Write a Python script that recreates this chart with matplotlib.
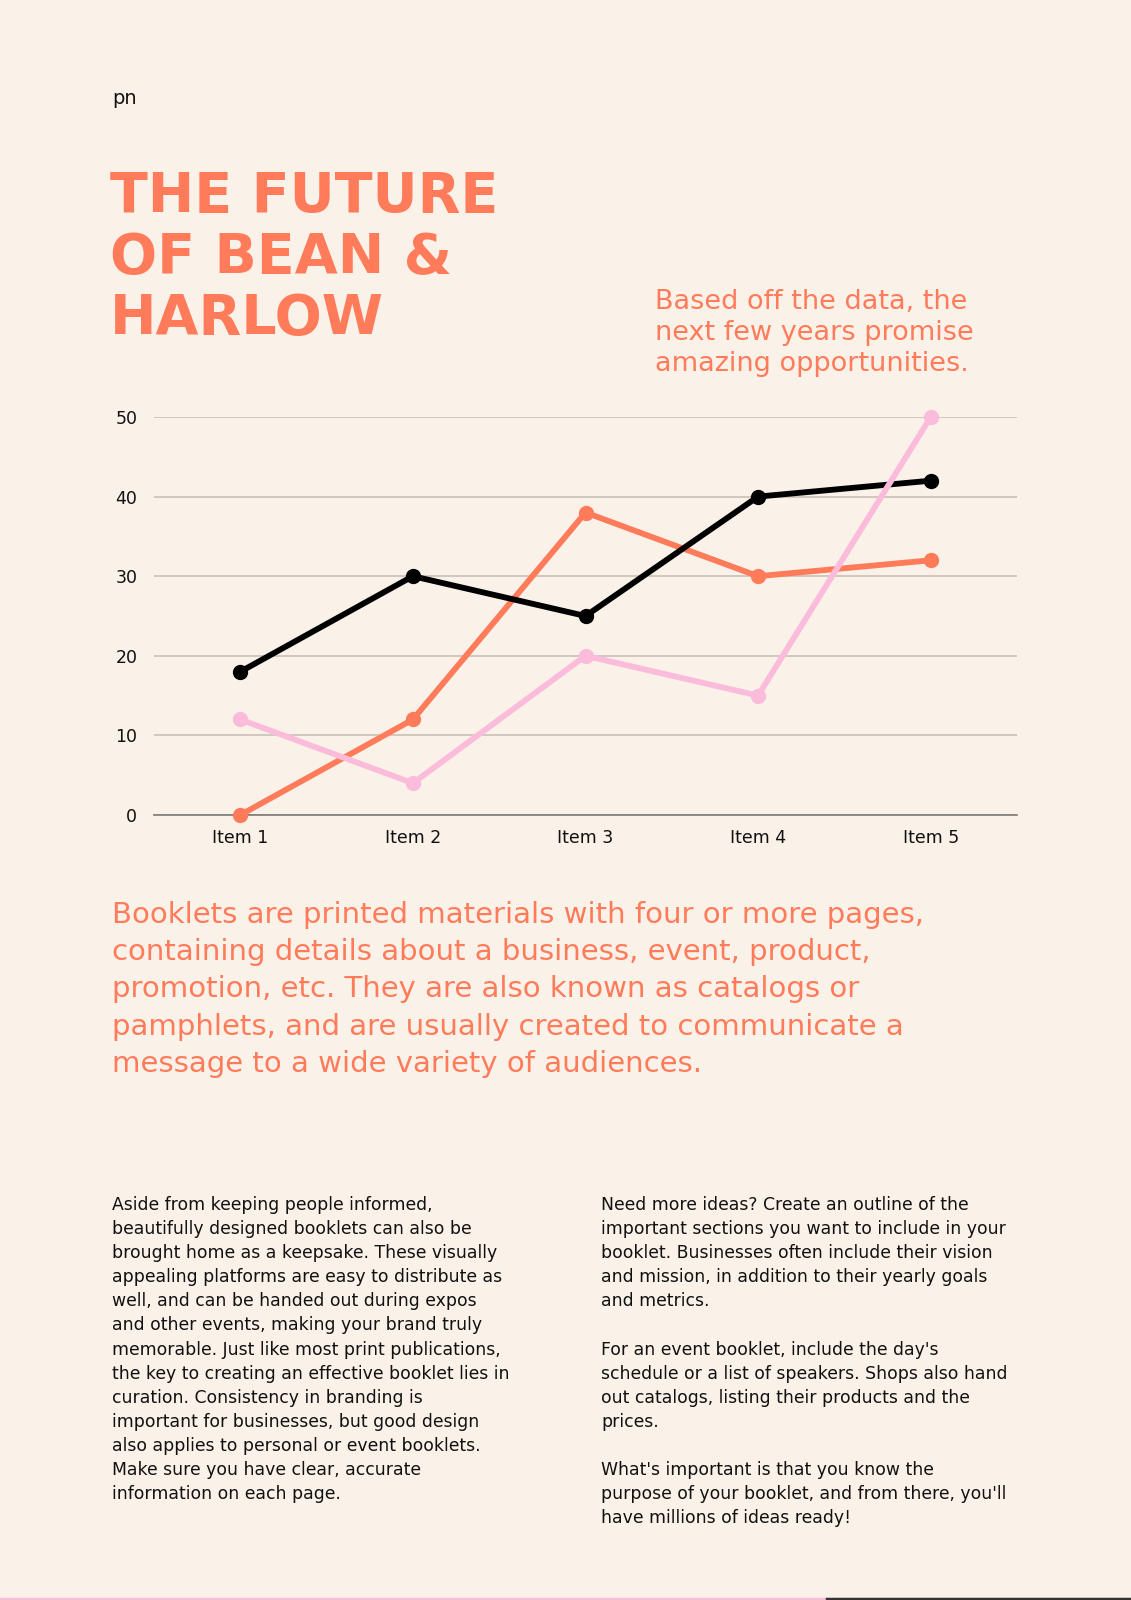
import matplotlib.pyplot as plt
import numpy as np

BG = "#FAF1E8"
ORANGE = "#FF7B5A"
PINK = "#FBBCDC"
INK = "#111111"

items = ["Item 1", "Item 2", "Item 3", "Item 4", "Item 5"]
serie_negra = [18, 30, 25, 40, 42]
serie_naranja = [0, 12, 38, 30, 32]
serie_rosa = [12, 4, 20, 15, 50]
y_ticks = [0, 10, 20, 30, 40, 50]

titulo = ["THE FUTURE", "OF BEAN &", "HARLOW"]
subtitulo = ["Based off the data, the", "next few years promise", "amazing opportunities."]
parrafo = [
    "Booklets are printed materials with four or more pages,",
    "containing details about a business, event, product,",
    "promotion, etc. They are also known as catalogs or",
    "pamphlets, and are usually created to communicate a",
    "message to a wide variety of audiences.",
]
col_izq = [
    "Aside from keeping people informed,",
    "beautifully designed booklets can also be",
    "brought home as a keepsake. These visually",
    "appealing platforms are easy to distribute as",
    "well, and can be handed out during expos",
    "and other events, making your brand truly",
    "memorable. Just like most print publications,",
    "the key to creating an effective booklet lies in",
    "curation. Consistency in branding is",
    "important for businesses, but good design",
    "also applies to personal or event booklets.",
    "Make sure you have clear, accurate",
    "information on each page.",
]
col_der = [
    "Need more ideas? Create an outline of the",
    "important sections you want to include in your",
    "booklet. Businesses often include their vision",
    "and mission, in addition to their yearly goals",
    "and metrics.",
    "",
    "For an event booklet, include the day's",
    "schedule or a list of speakers. Shops also hand",
    "out catalogs, listing their products and the",
    "prices.",
    "",
    "What's important is that you know the",
    "purpose of your booklet, and from there, you'll",
    "have millions of ideas ready!",
]

W, H = 1131, 1600
fig = plt.figure(figsize=(W / 100, H / 100), dpi=100, facecolor=BG)


def fy(px):
    # pixel desde arriba -> fraccion de figura
    return 1 - px / H


def fx(px):
    return px / W


# marca "pn"
fig.text(fx(112), fy(99), "pn", fontsize=14, fontweight="medium", color=INK,
         va="center", ha="left")

# titulo
for i, linea in enumerate(titulo):
    fig.text(fx(110), fy(197 + i * 61), linea, fontsize=40, fontweight="heavy",
             color=ORANGE, va="center", ha="left")

for i, linea in enumerate(subtitulo):
    fig.text(fx(655), fy(302 + i * 31), linea, fontsize=19.5, color=ORANGE,
             va="center", ha="left")

# grafico
ax = fig.add_axes([fx(154), fy(815), fx(1017) - fx(154), fy(417) - fy(815)])
ax.set_facecolor(BG)
x = np.arange(len(items))
ax.plot(x, serie_naranja, color=ORANGE, lw=4.2, marker="o", ms=10, clip_on=False, zorder=3)
ax.plot(x, serie_negra, color="black", lw=4.2, marker="o", ms=10, clip_on=False, zorder=4)
ax.plot(x, serie_rosa, color=PINK, lw=4.2, marker="o", ms=10, clip_on=False, zorder=5)
ax.set_xlim(-0.5, len(items) - 0.5)
ax.set_ylim(0, 50)
ax.set_yticks(y_ticks)
ax.set_xticks(x)
ax.set_xticklabels(items)
ax.tick_params(length=0, labelsize=12.5, colors=INK, pad=10)
ax.tick_params(axis="y", pad=12)
for s in ["top", "right", "left"]:
    ax.spines[s].set_visible(False)
ax.spines["bottom"].set_color("#7d7873")
ax.spines["bottom"].set_linewidth(1.2)
ax.grid(axis="y", color="#C9C0B7", lw=1.2)
ax.set_axisbelow(True)

# parrafo naranja
for i, linea in enumerate(parrafo):
    fig.text(fx(112), fy(915 + i * 37.2), linea, fontsize=21, color=ORANGE,
             va="center", ha="left")

# columnas de texto
for i, linea in enumerate(col_izq):
    fig.text(fx(112), fy(1205 + i * 24.1), linea, fontsize=12.4, color=INK,
             va="center", ha="left")
for i, linea in enumerate(col_der):
    fig.text(fx(601), fy(1205 + i * 24.1), linea, fontsize=12.4, color=INK,
             va="center", ha="left")

# franja inferior
fig.add_artist(plt.Line2D([0, fx(827)], [fy(1598.5)] * 2, color=PINK, lw=2.5))
fig.add_artist(plt.Line2D([fx(827), 1], [fy(1598.5)] * 2, color="#333333", lw=2.5))

fig.savefig("out.png", dpi=100, facecolor=BG)
